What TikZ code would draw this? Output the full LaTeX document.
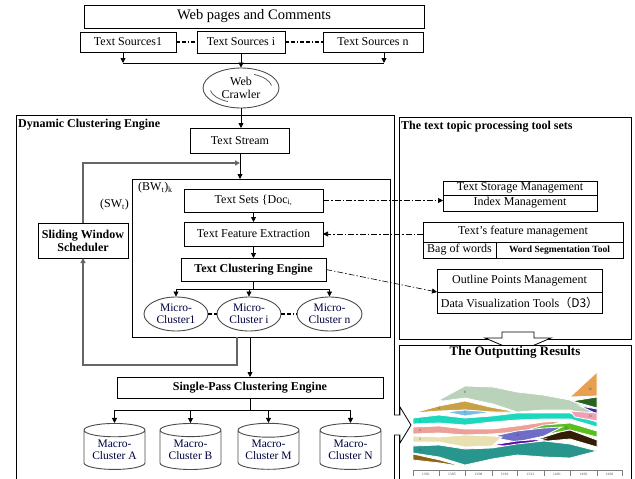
\documentclass[tikz,border=0pt]{standalone}
\usepackage{fontspec}
\setmainfont{Liberation Serif}
\newfontfamily\cjk{Noto Sans CJK SC}
\usetikzlibrary{arrows.meta,shapes.geometric}
\tikzset{>={Triangle[length=5pt,width=5pt]}}
\definecolor{sbrown}{RGB}{140,100,20}
\definecolor{steal}{RGB}{40,150,140}
\definecolor{scream}{RGB}{232,224,176}
\definecolor{ssalmon}{RGB}{236,160,152}
\definecolor{sturq}{RGB}{30,216,190}
\definecolor{sgold}{RGB}{200,160,70}
\definecolor{slblue}{RGB}{120,190,230}
\definecolor{ssage}{RGB}{185,210,185}
\definecolor{spurple}{RGB}{100,10,170}
\definecolor{sslate}{RGB}{110,110,200}
\definecolor{sdark}{RGB}{50,30,5}
\definecolor{sgreen}{RGB}{90,190,30}
\definecolor{spink}{RGB}{240,160,180}
\definecolor{sindigo}{RGB}{60,40,160}
\definecolor{sdgreen}{RGB}{40,100,30}
\definecolor{sorange}{RGB}{230,160,80}

\begin{document}
\begin{tikzpicture}[x=1pt,y=-1pt,font=\fontsize{12}{13}\selectfont,
		box/.style={rectangle, draw=black, line width=0.8pt, inner sep=0pt, outer sep=0pt},
		boldbox/.style={box, font=\fontsize{12}{13}\selectfont\bfseries},
		frame/.style={rectangle, draw=black, line width=0.8pt, fill=white, inner sep=0pt, outer sep=0pt},
		title/.style={anchor=north west, inner sep=2pt, font=\fontsize{12}{13}\selectfont\bfseries},
		cloud/.style={ellipse, draw=black!70, line width=0.9pt, inner sep=0pt, minimum width=64pt, minimum height=34pt, align=center, font=\fontsize{11.5}{12}\selectfont, text=blue!25!black},
		store/.style={cylinder, shape border rotate=90, aspect=0.3, draw=black!70, line width=0.9pt, minimum width=61pt, minimum height=46pt, inner sep=0pt, align=center, font=\fontsize{11.5}{12}\selectfont, text=blue!25!black},
		flow/.style={->, line width=0.8pt},
		feed/.style={->, draw=black!60, line width=1.2pt},
		link/.style={line width=1.2pt, dash pattern=on 4pt off 2pt on 4pt off 2pt on 1pt off 2pt},
		tool/.style={->, line width=0.6pt, dash pattern=on 6pt off 2pt on 1.5pt off 2pt},
		band/.style={draw=white, line width=0.8pt},
		tiny/.style={inner sep=0pt, font=\fontsize{3.5}{4}\selectfont, text=black!70}]
	\useasboundingbox (0,0) rectangle (635,479);

	% sources and crawler
	\node[box, minimum width=340pt, minimum height=23pt, font=\fontsize{14.5}{15}\selectfont] (web) at (254,16.5) {Web pages and Comments};
	\node[box, minimum width=96pt, minimum height=20pt] (src1) at (128,42) {Text Sources1};
	\node[box, minimum width=88pt, minimum height=22pt] (srci) at (241,42) {Text Sources i};
	\node[box, minimum width=100pt, minimum height=20pt] (srcn) at (373,42) {Text Sources n};
	\node[ellipse, draw=black!70, line width=0.9pt, inner sep=0pt, minimum width=76pt, minimum height=40pt, align=center] (crawler) at (241,88) {Web\\Crawler};
	\draw[black!70, line width=0.7pt] (crawler.center) ++(-10:31 and 15) arc[start angle=-10, end angle=-65, x radius=31, y radius=15];
	\draw[black!70, line width=0.7pt] (crawler.center) ++(170:31 and 15) arc[start angle=170, end angle=115, x radius=31, y radius=15];
	\coordinate (bus1) at (123,63);
	\coordinate (busn) at (384,63);

	\draw[link] (src1) -- (srci);
	\draw[link] (srci) -- (srcn);
	\draw[flow] (src1.south -| bus1) -- (bus1);
	\draw[flow] (srcn.south -| busn) -- (busn);
	\draw[line width=0.8pt] (bus1) -- (busn);
	\draw[flow] (srci) -- (crawler);

	% frames
	\node[frame, minimum width=378pt, minimum height=366pt] (dce) at (205,298) {};
	\node[frame, minimum width=232pt, minimum height=222pt] (tools) at (515,228) {};
	\node[title] (dcetitle) at ([yshift=-2pt]dce.north west) {Dynamic Clustering Engine};
	\node[title] (toolstitle) at ([yshift=-2pt]tools.north west) {The text topic processing tool sets};
	\draw[line width=0.8pt, fill=white] (502,332) -- (534,332) -- (534,338) -- (551,338) -- (518,352) -- (485,338) -- (502,338) -- cycle;
	\node[frame, minimum width=232pt, minimum height=136pt] (output) at (515,413) {};
	\node[anchor=north, inner sep=1pt, font=\fontsize{13}{14}\selectfont\bfseries] (outtitle) at (output.north) {The Outputting Results};

	% dynamic clustering engine
	\node[box, minimum width=99pt, minimum height=25pt] (stream) at (240,140.5) {Text Stream};
	\node[box, minimum width=258pt, minimum height=158pt] (inner) at (261,258) {};
	\node[boldbox, minimum width=90pt, minimum height=35pt, align=center] (sws) at (83,240.5) {Sliding Window\\Scheduler};
	\node[anchor=west, inner sep=0pt] (bw) at (138,188) {(BW\textsubscript{t})\textsubscript{k}};
	\node[anchor=west, inner sep=0pt] (sw) at (100,205) {(SW\textsubscript{t})};
	\node[box, minimum width=139pt, minimum height=23pt] (sets) at (253.5,200.5) {Text Sets \{Doc\textsubscript{i,}};
	\node[box, minimum width=139pt, minimum height=24pt] (tfe) at (253.5,234) {Text Feature Extraction};
	\node[boldbox, minimum width=145pt, minimum height=23pt] (tce) at (253.5,269.5) {Text Clustering Engine};
	\node[cloud] (mc1) at (176,314) {Micro-\\Cluster1};
	\node[cloud] (mci) at (249,314) {Micro-\\Cluster i};
	\node[cloud, minimum width=65pt] (mcn) at (329.5,314) {Micro-\\Cluster n};
	\node[boldbox, minimum width=266pt, minimum height=21pt] (spce) at (250,387.5) {Single-Pass Clustering Engine};
	\node[store] (maca) at (114.5,450) {Macro-\\Cluster A};
	\node[store] (macb) at (190.5,450) {Macro-\\Cluster B};
	\node[store] (macm) at (268.5,450) {Macro-\\Cluster M};
	\node[store] (macn) at (350.5,450) {Macro-\\Cluster N};
	\coordinate (merge) at (240,163);
	\coordinate (ret) at (237,337);
	\coordinate (mb1) at (176,289);
	\coordinate (mbn) at (329.5,289);
	\coordinate (ab1) at (114.5,410);
	\coordinate (abn) at (350.5,410);

	\draw[flow] (crawler.south) -- (crawler.south |- stream.north);
	\draw[flow] (stream.south) -- (stream.south |- inner.north);
	\draw[feed] (sws.north) |- (merge);
	\draw[feed] (ret) -- ++(0,28) -| (sws.south);
	\draw[flow] (sets) -- (tfe);
	\draw[flow] (tfe) -- (tce);
	\draw[line width=0.8pt] (tce.south) -- (tce.south |- mb1);
	\draw[line width=0.8pt] (mb1) -- (mbn);
	\draw[flow] (mb1) -- (mc1);
	\draw[flow] (mci |- mb1) -- (mci);
	\draw[flow] (mbn) -- (mcn);
	\draw[link] (mc1) -- (mci);
	\draw[link] (mci) -- (mcn);
	\draw[flow] (spce.north |- inner.south) -- (spce.north);
	\draw[line width=0.8pt] (spce.south) -- (spce.south |- ab1);
	\draw[line width=0.8pt] (ab1) -- (abn);
	\draw[flow] (ab1) -- (maca);
	\draw[flow] (macb |- ab1) -- (macb);
	\draw[flow] (macm |- ab1) -- (macm);
	\draw[flow] (abn) -- (macn);

	% tool sets
	\node[box, minimum width=154pt, minimum height=14pt] (tsm) at (520,188) {Text Storage Management};
	\node[box, minimum width=154pt, minimum height=16pt] (index) at (520,203) {Index Management};
	\node[box, minimum width=200pt, minimum height=20pt] (tfm) at (523,232) {Text’s feature management};
	\node[box, minimum width=73pt, minimum height=16pt] (bow) at (459.5,250) {Bag of words};
	\node[box, minimum width=127pt, minimum height=16pt, font=\fontsize{9.5}{10}\selectfont\bfseries] (wst) at (559.5,250) {Word Segmentation Tool};
	\node[box, minimum width=165pt, minimum height=23pt] (opm) at (519.5,280.5) {Outline Points Management};
	\node[box, minimum width=165pt, minimum height=21pt] (dvt) at (519.5,302.5) {Data Visualization Tools\cjk{（}D3\cjk{）}};

	\draw[tool] (sets.east) -- (sets.east -| tsm.west);
	\draw[tool] (tfm.west |- tfe.east) -- (tfe.east);
	\draw[tool] (tce.east) -- (opm.south west);

	% outputting results
	\fill[band, fill=ssage] (439,400) -- (465,386) -- (493,387) -- (517,392) -- (543,395) -- (570,400) -- (597,412) -- (597,418) -- (570,410) -- (543,410) -- (517,412) -- (493,404) -- (465,398) -- (443,401) -- cycle;
	\fill[band, fill=sgold] (413,413) -- (439,406) -- (465,401) -- (490,407) -- (517,412) -- (490,412) -- (465,410) -- (439,411) -- cycle;
	\fill[band, fill=slblue] (446,412) -- (465,410) -- (492,412) -- (465,416) -- cycle;
	\fill[band, fill=sturq] (413,418) -- (439,415) -- (465,418) -- (492,416) -- (517,413) -- (544,413) -- (570,413) -- (597,422) -- (597,427) -- (570,419) -- (544,419) -- (517,420) -- (492,422) -- (465,425) -- (439,423) -- (413,424) -- cycle;
	\fill[band, fill=ssalmon] (413,427) -- (439,426) -- (465,429) -- (492,429) -- (517,426) -- (544,422) -- (562,421) -- (544,428) -- (517,432) -- (492,434) -- (465,435) -- (439,433) -- (413,434) -- cycle;
	\fill[band, fill=sgreen] (517,433) -- (544,425) -- (570,423) -- (597,431) -- (597,437) -- (570,430) -- (548,434) -- cycle;
	\fill[band, fill=sslate] (490,437) -- (517,431) -- (544,428) -- (562,427) -- (544,436) -- (517,442) -- cycle;
	\fill[band, fill=sdark] (535,440) -- (560,432) -- (570,430) -- (597,440) -- (597,447) -- (570,439) -- (548,441) -- cycle;
	\fill[band, fill=spurple] (492,445) -- (517,441) -- (544,439) -- (517,447) -- cycle;
	\fill[band, fill=scream] (413,436) -- (439,437) -- (465,435) -- (492,436) -- (502,437) -- (492,446) -- (465,447) -- (439,442) -- (413,442) -- cycle;
	\fill[band, fill=steal] (413,446) -- (439,445) -- (465,449) -- (492,448) -- (517,444) -- (544,441) -- (570,444) -- (597,451) -- (570,458) -- (544,457) -- (517,455) -- (492,459) -- (465,465) -- (439,457) -- (413,453) -- cycle;
	\fill[band, fill=sbrown] (413,454) -- (440,460) -- (465,467) -- (440,463) -- (413,460) -- cycle;
	\fill[band, fill=sorange] (570,397) -- (597,372) -- (597,396) -- cycle;
	\fill[band, fill=sdgreen] (572,401) -- (597,397) -- (597,408) -- cycle;
	\fill[band, fill=sindigo] (580,406) -- (597,409) -- (597,414) -- cycle;
	\fill[band, fill=spink] (570,411) -- (597,413) -- (597,421) -- (575,417) -- cycle;
	\node[tiny] (n1) at (420,457) {1};
	\node[tiny] (n2) at (420,450) {2};
	\node[tiny] (n3) at (420,439) {3};
	\node[tiny] (n4) at (420,430) {4};
	\node[tiny] (n5) at (420,421) {5};
	\node[tiny] (n6) at (439,408) {6};
	\node[tiny] (n7) at (465,413) {7};
	\node[tiny] (n8) at (465,392) {8};
	\node[tiny] (n9) at (517,444) {9};
	\node[tiny] (n10) at (517,435) {10};
	\node[tiny] (n12) at (566,428) {12};
	\node[tiny] (n13) at (590,416) {13};
	\node[tiny] (n15) at (590,403) {15};
	\node[tiny] (n16) at (590,389) {16};
	\draw[black!50, line width=0.5pt] (413,470) -- (622,470);
	\draw[black!50, line width=0.5pt] (413,470) -- (413,476) (439,470) -- (439,476) (465,470) -- (465,476) (492,470) -- (492,476) (517,470) -- (517,476) (544,470) -- (544,476) (570,470) -- (570,476) (597,470) -- (597,476) (622,470) -- (622,476);
	\node[tiny] (t1) at (426,474) {13/01};
	\node[tiny] (t2) at (452,474) {13/05};
	\node[tiny] (t3) at (478.5,474) {13/08};
	\node[tiny] (t4) at (504.5,474) {13/10};
	\node[tiny] (t5) at (530.5,474) {13/12};
	\node[tiny] (t6) at (557,474) {14/01};
	\node[tiny] (t7) at (583.5,474) {14/02};
	\node[tiny] (t8) at (609.5,474) {14/03};
	\draw[line width=0.8pt, fill=white] (394,415) -- (400,415) -- (400,407) -- (411,425) -- (400,443) -- (400,435) -- (394,435);
\end{tikzpicture}
\end{document}
